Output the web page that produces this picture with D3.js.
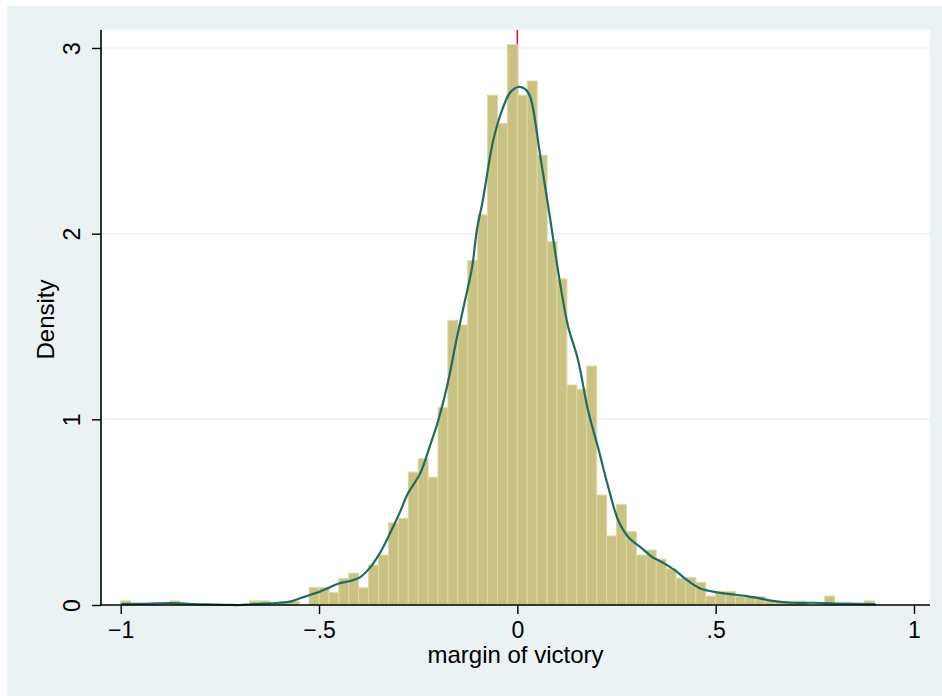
<!DOCTYPE html>
<html>
<head>
<meta charset="utf-8">
<script src="https://cdn.jsdelivr.net/npm/d3@7"></script>
<style>
  html, body { margin: 0; padding: 0; background: #ffffff; }
  svg { display: block; }
  text { font-family: "Liberation Sans", Arial, Helvetica, sans-serif; fill: #000; }
</style>
</head>
<body>
<svg id="chart" width="942" height="696"></svg>
<script>
// ---- data ----
const binStart = -1;
const binWidth = 0.025;
const binHeights = [
  0.022, 0, 0, 0, 0, 0.022, 0, 0, 0, 0,
  0, 0, 0, 0.022, 0.022, 0, 0.02, 0.02, 0, 0.095,
  0.095, 0.068, 0.144, 0.171, 0.093, 0.215, 0.269, 0.442, 0.467, 0.716,
  0.788, 0.688, 1.062, 1.533, 1.508, 1.856, 2.102, 2.746, 2.594, 3.019,
  2.746, 2.822, 2.423, 1.957, 1.757, 1.185, 1.162, 1.287, 0.592, 0.372,
  0.542, 0.395, 0.269, 0.296, 0.246, 0.195, 0.144, 0.147, 0.122, 0.048,
  0.072, 0.072, 0.045, 0.045, 0.045, 0.023, 0.02, 0.02, 0.02, 0,
  0, 0.048, 0, 0, 0, 0.022
];
const kdeX = [-0.999, -0.951, -0.871, -0.8, -0.737, -0.699, -0.674, -0.636, -0.598, -0.573,
  -0.548, -0.523, -0.498, -0.473, -0.448, -0.422, -0.397, -0.372, -0.347, -0.321,
  -0.296, -0.276, -0.245, -0.22, -0.2, -0.177, -0.152, -0.132, -0.114, -0.102,
  -0.087, -0.061, -0.036, -0.018, 0.002, 0.019, 0.032, 0.057, 0.082, 0.108,
  0.128, 0.153, 0.178, 0.203, 0.229, 0.254, 0.279, 0.314, 0.339, 0.365,
  0.397, 0.427, 0.46, 0.503, 0.536, 0.578, 0.611, 0.644, 0.695, 0.745,
  0.83, 0.904];
const kdeY = [0.005, 0.006, 0.01, 0.004, 0.001, 0.0, 0.004, 0.008, 0.012, 0.018,
  0.036, 0.054, 0.072, 0.095, 0.117, 0.129, 0.149, 0.2, 0.278, 0.386,
  0.5, 0.6, 0.709, 0.86, 0.99, 1.18, 1.445, 1.64, 1.82, 2.02,
  2.18, 2.5, 2.68, 2.76, 2.79, 2.78, 2.74, 2.43, 2.09, 1.73,
  1.5, 1.32, 1.05, 0.852, 0.637, 0.458, 0.368, 0.305, 0.26, 0.23,
  0.188, 0.135, 0.09, 0.068, 0.059, 0.048, 0.036, 0.022, 0.012, 0.012,
  0.007, 0.004];
const xTickValues = [-1, -0.5, 0, 0.5, 1];
const xTickLabels = ["\u22121", "\u2212.5", "0", ".5", "1"];
const yTickValues = [0, 1, 2, 3];
const yTickLabels = ["0", "1", "2", "3"];
const xLineValue = [0];
const xTitle = "margin of victory";
const yTitle = "Density";

// ---- layout ----
const svg = d3.select("#chart");
const plot = { left: 101, right: 930, top: 30, bottom: 605 };
const x = d3.scaleLinear().domain([-1, 1]).range([120.7, 914]);
const y = d3.scaleLinear().domain([0, 3]).range([605, 48]);
const fontSize = 23;
const titleSize = 24;

// outer panel
svg.append("rect").attr("x", 7).attr("y", 6).attr("width", 935).attr("height", 690)
  .attr("fill", "#eaf2f3");
// plot region
svg.append("rect").attr("x", plot.left).attr("y", plot.top)
  .attr("width", plot.right - plot.left).attr("height", plot.bottom - plot.top)
  .attr("fill", "#ffffff");

// grid lines
svg.append("g").selectAll("line").data(yTickValues.filter(v => v > 0)).join("line")
  .attr("x1", plot.left).attr("x2", plot.right)
  .attr("y1", d => y(d)).attr("y2", d => y(d))
  .attr("stroke", "#eaf2f3").attr("stroke-width", 1.5);

// xline at 0 (behind bars)
svg.append("g").selectAll("line").data(xLineValue).join("line")
  .attr("x1", d => x(d)).attr("x2", d => x(d))
  .attr("y1", plot.top).attr("y2", plot.bottom)
  .attr("stroke", "#e0103c").attr("stroke-width", 1.6);

// histogram bars
const bins = binHeights.map((h, i) => ({ x0: binStart + i * binWidth, x1: binStart + (i + 1) * binWidth, h }));
svg.append("g").selectAll("rect").data(bins.filter(b => b.h > 0)).join("rect")
  .attr("x", d => x(d.x0))
  .attr("width", d => x(d.x1) - x(d.x0))
  .attr("y", d => y(d.h))
  .attr("height", d => y(0) - y(d.h))
  .attr("fill", "#c9c283")
  .attr("stroke", "#ddd8a6")
  .attr("stroke-width", 1);

// kde line
const line = d3.line().x((d, i) => x(kdeX[i])).y(d => y(d)).curve(d3.curveCatmullRom.alpha(0.5));
svg.append("path").datum(kdeY).attr("d", line)
  .attr("fill", "none").attr("stroke", "#1f6b61").attr("stroke-width", 2.2);

// x axis
const xAxis = d3.axisBottom(x).tickValues(xTickValues)
  .tickFormat((d, i) => xTickLabels[i]).tickSize(9).tickSizeOuter(0);
const gx = svg.append("g").attr("transform", `translate(0,${plot.bottom})`).call(xAxis);
gx.select(".domain").remove();
gx.append("line").attr("x1", plot.left).attr("x2", plot.right).attr("y1", 0).attr("y2", 0)
  .attr("stroke", "#000").attr("stroke-width", 1.6);
gx.selectAll(".tick line").attr("stroke", "#000").attr("stroke-width", 1.4);
gx.selectAll(".tick text").attr("y", 33).attr("dy", 0)
  .attr("font-size", fontSize).attr("font-family", "Liberation Sans, Arial, sans-serif").attr("fill", "#000");

// y axis
const yAxis = d3.axisLeft(y).tickValues(yTickValues)
  .tickFormat((d, i) => yTickLabels[i]).tickSize(9).tickSizeOuter(0);
const gy = svg.append("g").attr("transform", `translate(${plot.left},0)`).call(yAxis);
gy.select(".domain").remove();
gy.append("line").attr("x1", 0).attr("x2", 0).attr("y1", plot.top).attr("y2", plot.bottom)
  .attr("stroke", "#000").attr("stroke-width", 1.6);
gy.selectAll(".tick line").attr("stroke", "#000").attr("stroke-width", 1.4);
gy.selectAll(".tick text")
  .attr("x", 0).attr("y", -21).attr("dy", 0)
  .attr("transform", "rotate(-90)")
  .attr("text-anchor", "middle")
  .attr("font-size", fontSize).attr("font-family", "Liberation Sans, Arial, sans-serif").attr("fill", "#000");

// titles
svg.append("text").attr("x", (plot.left + plot.right) / 2).attr("y", 663)
  .attr("text-anchor", "middle").attr("font-size", titleSize).text(xTitle);
svg.append("text").attr("transform", `translate(54,${(plot.top + plot.bottom) / 2 + 2}) rotate(-90)`)
  .attr("text-anchor", "middle").attr("font-size", titleSize).text(yTitle);
</script>
</body>
</html>
